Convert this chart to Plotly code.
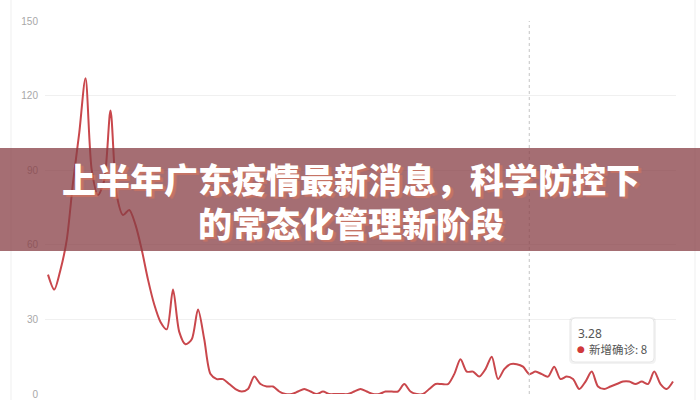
import pandas as pd
import plotly.graph_objects as go

# ---- data ----
dates = [f"{d.month}.{d.day}" for d in pd.date_range("2020-01-11", "2020-04-20", freq="D")]
new_cases = [
    48, 42, 50, 62, 85, 105, 127, 90, 80, 86,
    114, 80, 72, 74, 68, 58, 46, 36, 29, 26,
    42, 25, 20, 22, 34, 22, 8, 6, 6, 4,
    2, 1, 2, 7, 4, 3, 3, 1, 0, 0,
    1, 2, 1, 0, 1, 0, 0, 0, 0, 1,
    2, 1, 0, 0, 1, 1, 1, 4, 1, 0,
    0, 2, 4, 4, 4, 8, 14, 9, 9, 7,
    10, 15, 6, 10, 12, 12, 11, 8, 9, 8,
    7, 11, 6, 7, 6, 2, 5, 9, 3, 2,
    3, 4, 5, 5, 4, 5, 4, 9, 4, 2,
    5,
]
series_name = "新增确诊"
y_ticks = [0, 30, 60, 90, 120, 150]
title_lines = ["上半年广东疫情最新消息，科学防控下", "的常态化管理新阶段"]
hover_index = dates.index("3.28")

# ---- pixel helpers (layout only) ----
W, H = 700, 400
L, R, T, B = 45, 24, 21, 6
PW, PH = W - L - R, H - T - B


def px(x):
    return (x - L) / PW


def py(y):
    return (H - B - y) / PH


def rounded_rect(x0, y0, x1, y1, r):
    rx, ry = r / PW, r / PH
    a0, a1 = px(x0), px(x1)
    b0, b1 = py(y1), py(y0)  # bottom, top in paper
    return (f"M{a0+rx},{b1} L{a1-rx},{b1} Q{a1},{b1} {a1},{b1-ry} "
            f"L{a1},{b0+ry} Q{a1},{b0} {a1-rx},{b0} L{a0+rx},{b0} "
            f"Q{a0},{b0} {a0},{b0+ry} L{a0},{b1-ry} Q{a0},{b1} {a0+rx},{b1} Z")


line_color = "#c9474c"

fig = go.Figure()
fig.add_trace(go.Scatter(
    x=list(range(len(dates))), y=new_cases, mode="lines", name=series_name,
    customdata=dates,
    line=dict(color=line_color, width=2, shape="spline", smoothing=0.8),
    hoverinfo="skip",
))

shapes = [
    # faint card borders
    dict(type="line", xref="paper", yref="paper", x0=px(11), x1=px(11), y0=py(400), y1=py(0),
         line=dict(color="#efefef", width=1)),
    dict(type="line", xref="paper", yref="paper", x0=px(695), x1=px(695), y0=py(400), y1=py(0),
         line=dict(color="#efefef", width=1)),
    # axis pointer
    dict(type="line", xref="x", yref="paper", x0=hover_index, x1=hover_index,
         y0=0, y1=1, line=dict(color="#c4c4c4", width=1, dash="dot")),
    # tooltip shadow + box
    dict(type="path", xref="paper", yref="paper", path=rounded_rect(569, 317, 656, 364, 5),
         fillcolor="rgba(0,0,0,0.05)", line=dict(width=0), layer="above"),
    dict(type="path", xref="paper", yref="paper", path=rounded_rect(571, 318, 654, 362, 4),
         fillcolor="white", line=dict(color="#e6e6e6", width=1), layer="above"),
    # banner
    dict(type="rect", xref="paper", yref="paper", x0=px(0), x1=px(700), y0=py(251), y1=py(148),
         fillcolor="rgba(135,62,68,0.75)", line=dict(width=0), layer="above"),
]

annotations = [
    dict(xref="paper", yref="paper", x=px(576), y=py(333), text=dates[hover_index],
         showarrow=False, xanchor="left", yanchor="middle",
         font=dict(size=12, color="#555", family="Noto Sans")),
    dict(xref="paper", yref="paper", x=px(575), y=py(349), text="●",
         showarrow=False, xanchor="left", yanchor="middle",
         font=dict(size=9, color="#d0393b", family="DejaVu Sans")),
    dict(xref="paper", yref="paper", x=px(587), y=py(349),
         text=f"{series_name}: {new_cases[hover_index]}",
         showarrow=False, xanchor="left", yanchor="middle",
         font=dict(size=11.5, color="#555", family="Noto Sans CJK SC")),
    dict(xref="paper", yref="paper", x=px(351), y=py(200), text="<br>".join(title_lines),
         showarrow=False, xanchor="center", yanchor="middle", align="center",
         font=dict(size=34, color="white", family="Noto Sans CJK SC", weight=900,
                   shadow="3px 2px 1px rgba(225,120,90,0.55)")),
]

fig.update_layout(
    width=W, height=H,
    margin=dict(l=L, r=R, t=T, b=B, autoexpand=False),
    paper_bgcolor="white", plot_bgcolor="white",
    showlegend=False,
    shapes=shapes, annotations=annotations,
    xaxis=dict(range=[-0.48, len(dates) - 1 + 0.48], automargin=False,
               showgrid=False, showticklabels=False, zeroline=False, showline=False, ticks=""),
    yaxis=dict(range=[0, 150], tickvals=y_ticks, showgrid=True, gridcolor="#f0f0f0",
               automargin=False,
               zeroline=False, showline=False, ticks="", ticklabelstandoff=6,
               tickfont=dict(size=10, color="#a8a8a8", family="Liberation Sans")),
)

fig.write_html(
    "out.html",
    config={"displayModeBar": False, "staticPlot": True},
    post_script=(
        "document.documentElement.style.margin='0';"
        "document.documentElement.style.overflow='hidden';"
        "document.body.style.margin='0';"
        "document.body.style.overflow='hidden';"
    ),
)
